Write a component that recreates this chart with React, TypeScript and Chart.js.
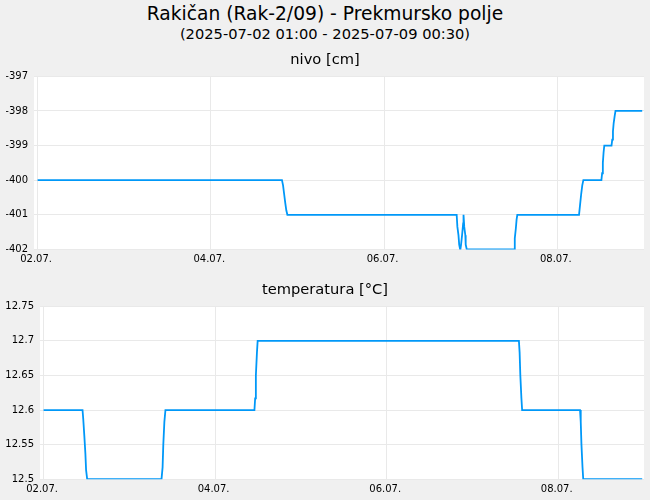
import { useEffect, useRef } from 'react';
import { Chart, registerables } from 'chart.js';

Chart.register(...registerables);

const FONT = "'DejaVu Sans', sans-serif";

// hours since 2025-07-02 01:00, half-hourly readings reduced to the points where the level moves
const xTickHours = [0, 48, 96, 144];
const xTickLabels = ['02.07.', '04.07.', '06.07.', '08.07.'];

const nivoHours = [
  0, 67.7, 68.0, 68.3, 68.6, 68.9, 69.2,
  116.1, 116.3, 116.6, 116.8, 117.1, 117.3, 117.6, 117.9, 118.0, 118.2, 118.5, 118.6, 118.9,
  132.0, 132.2, 132.5, 132.7, 132.9,
  150.0, 150.3, 150.6, 150.9, 151.2,
  156.2, 156.4, 156.6, 156.8, 157.0,
  159.0, 159.2, 159.4, 159.6, 159.9, 160.1,
  167.5,
];
const nivoValues = [
  -400, -400, -400.15, -400.4, -400.65, -400.87, -401,
  -401, -401.35, -401.59, -401.86, -402.02, -401.88, -401.59, -401.25, -401.0, -401.35, -401.59, -401.86, -402,
  -402, -401.68, -401.39, -401.14, -401,
  -401, -400.7, -400.4, -400.15, -400,
  -400, -399.8, -399.5, -399.2, -399,
  -399, -398.83, -398.59, -398.35, -398.13, -398,
  -398,
];
const nivoTicks = [-402, -401, -400, -399, -398, -397];

const tempHours = [
  0, 10.9, 11.1, 11.4, 11.7, 11.9, 12.2,
  33.0, 33.3, 33.5, 33.8, 34.1,
  59.0, 59.2, 59.4, 59.7, 59.9,
  133.0, 133.2, 133.4, 133.7, 133.9,
  150.1, 150.3, 150.5, 150.8, 151.0,
  167.5,
];
const tempValues = [
  12.6, 12.6, 12.587, 12.563, 12.537, 12.513, 12.5,
  12.5, 12.517, 12.55, 12.583, 12.6,
  12.6, 12.617, 12.65, 12.683, 12.7,
  12.7, 12.683, 12.65, 12.617, 12.6,
  12.6, 12.583, 12.55, 12.517, 12.5,
  12.5,
];
const tempTicks = [12.5, 12.55, 12.6, 12.65, 12.7, 12.75];

const plotBackground = {
  id: 'plotBackground',
  beforeDraw(chart: Chart) {
    const { ctx, chartArea: a } = chart;
    ctx.save();
    ctx.fillStyle = '#ffffff';
    ctx.fillRect(a.left, a.top, a.right - a.left, a.bottom - a.top);
    ctx.restore();
  },
};

interface PanelProps {
  title: string;
  hours: number[];
  values: number[];
  yTicks: number[];
  axisWidth: number;
  top: number;
  height: number;
  padBottom: number;
}

function Panel({ title, hours, values, yTicks, axisWidth, top, height, padBottom }: PanelProps) {
  const canvasRef = useRef<HTMLCanvasElement>(null);
  const chartRef = useRef<Chart | null>(null);

  useEffect(() => {
    if (!canvasRef.current) return;
    if (chartRef.current) chartRef.current.destroy();

    const grid = { color: '#e9e9e9', drawTicks: false };
    const tickFont = { family: FONT, size: 10 };

    chartRef.current = new Chart(canvasRef.current, {
      type: 'line',
      data: {
        datasets: [
          {
            data: hours.map((h, i) => ({ x: h, y: values[i] })),
            borderColor: '#0098f8',
            borderWidth: 1.8,
            pointRadius: 0,
            tension: 0,
            fill: false,
          },
        ],
      },
      options: {
        animation: false,
        responsive: true,
        maintainAspectRatio: false,
        layout: { padding: { left: 6, right: 6, top: 0, bottom: padBottom } },
        scales: {
          x: {
            type: 'linear',
            min: -1,
            max: 168,
            afterBuildTicks: (s: any) => { s.ticks = xTickHours.map((v) => ({ value: v })); },
            ticks: {
              callback: (v: any) => xTickLabels[xTickHours.indexOf(Number(v))] ?? '',
              color: '#000',
              font: tickFont,
              padding: 4,
              labelOffset: -1.5,
              maxRotation: 0,
              autoSkip: false,
            },
            grid,
            border: { display: false },
          },
          y: {
            min: yTicks[0],
            max: yTicks[yTicks.length - 1],
            afterBuildTicks: (s: any) => { s.ticks = yTicks.map((v) => ({ value: v })); },
            afterFit: (s: any) => { s.width = axisWidth; },
            ticks: {
              callback: (v: any) => String(+Number(v).toFixed(2)),
              color: '#000',
              font: tickFont,
              padding: 6,
            },
            grid,
            border: { display: false },
          },
        },
        plugins: {
          legend: { display: false },
          tooltip: { enabled: false },
          title: {
            display: true,
            text: title,
            color: '#000',
            font: { family: FONT, size: 14.67, weight: 'normal' },
            padding: { top: 13.2, bottom: 7.5 },
          },
        },
      },
      plugins: [plotBackground],
    });

    return () => { if (chartRef.current) chartRef.current.destroy(); };
  }, [title, hours, values, yTicks, axisWidth, padBottom]);

  return (
    <div style={{ position: 'absolute', left: 0, top, width: 650, height }}>
      <canvas ref={canvasRef} />
    </div>
  );
}

export default function App() {
  useEffect(() => { document.body.style.margin = '0'; }, []);

  return (
    <div style={{ position: 'relative', width: 650, height: 500, background: '#f0f0f0', fontFamily: FONT, color: '#000', overflow: 'hidden' }}>
      <div style={{ position: 'absolute', top: 3, left: 0, width: 650, textAlign: 'center', fontSize: 18.67, lineHeight: '22px' }}>
        Rakičan (Rak-2/09) - Prekmursko polje
      </div>
      <div style={{ position: 'absolute', top: 25, left: 0, width: 650, textAlign: 'center', fontSize: 14.67, lineHeight: '18px' }}>
        (2025-07-02 01:00 - 2025-07-09 00:30)
      </div>
      <Panel title="nivo [cm]" hours={nivoHours} values={nivoValues} yTicks={nivoTicks} axisWidth={28} top={38} height={234} padBottom={2.6} />
      <Panel title="temperatura [°C]" hours={tempHours} values={tempValues} yTicks={tempTicks} axisWidth={34} top={268} height={232} padBottom={0.8} />
    </div>
  );
}
